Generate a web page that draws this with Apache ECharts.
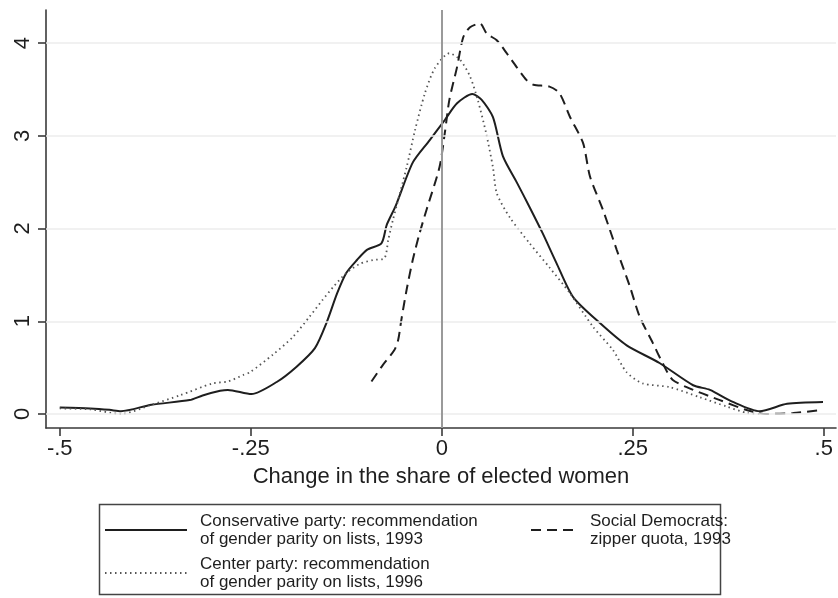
<!DOCTYPE html>
<html>
<head>
<meta charset="utf-8">
<script src="https://cdn.jsdelivr.net/npm/echarts@6/dist/echarts.min.js"></script>
<style>
html,body{margin:0;padding:0;background:#fff;}
#chart{width:838px;height:598px;}
</style>
</head>
<body>
<div id="chart"></div>
<script>
// ---- data ----
const consX = [-0.5, -0.46, -0.435, -0.42, -0.38, -0.33, -0.313, -0.29, -0.28, -0.249, -0.216, -0.19, -0.166, -0.151, -0.137, -0.125, -0.111, -0.098, -0.079, -0.072, -0.06, -0.038, -0.016, 0.004, 0.02, 0.04, 0.052, 0.067, 0.08, 0.098, 0.115, 0.132, 0.15, 0.172, 0.207, 0.242, 0.285, 0.329, 0.351, 0.381, 0.416, 0.452, 0.499];
const consY = [0.07, 0.06, 0.045, 0.03, 0.1, 0.15, 0.2, 0.25, 0.26, 0.215, 0.345, 0.51, 0.71, 0.98, 1.30, 1.52, 1.66, 1.77, 1.84, 2.04, 2.25, 2.71, 2.95, 3.17, 3.35, 3.45, 3.39, 3.2, 2.78, 2.5, 2.23, 1.95, 1.63, 1.26, 0.98, 0.74, 0.55, 0.31, 0.26, 0.13, 0.03, 0.11, 0.13];

const centX = [-0.5, -0.46, -0.42, -0.38, -0.343, -0.3, -0.28, -0.26, -0.251, -0.221, -0.195, -0.173, -0.156, -0.142, -0.125, -0.107, -0.09, -0.075, -0.07, -0.064, -0.046, -0.035, -0.022, -0.009, 0.01, 0.024, 0.037, 0.047, 0.058, 0.067, 0.072, 0.089, 0.115, 0.141, 0.168, 0.198, 0.224, 0.242, 0.263, 0.298, 0.338, 0.373, 0.4, 0.42];
const centY = [0.06, 0.05, 0.0, 0.1, 0.2, 0.33, 0.35, 0.42, 0.45, 0.64, 0.83, 1.05, 1.23, 1.37, 1.52, 1.62, 1.66, 1.68, 1.88, 2.09, 2.66, 3.06, 3.46, 3.73, 3.89, 3.82, 3.64, 3.39, 3.03, 2.66, 2.38, 2.12, 1.84, 1.58, 1.30, 0.94, 0.69, 0.45, 0.33, 0.29, 0.18, 0.08, 0.01, 0.0];

const socX = [-0.092, -0.077, -0.062, -0.057, -0.053, -0.046, -0.038, -0.029, -0.02, -0.003, 0.004, 0.01, 0.02, 0.028, 0.037, 0.05, 0.059, 0.072, 0.085, 0.098, 0.111, 0.12, 0.141, 0.154, 0.168, 0.185, 0.194, 0.211, 0.229, 0.246, 0.259, 0.276, 0.289, 0.302, 0.329, 0.364, 0.4, 0.425, 0.46, 0.495];
const socY = [0.35, 0.53, 0.69, 0.8, 1.01, 1.34, 1.66, 1.95, 2.2, 2.66, 3.03, 3.39, 3.74, 4.06, 4.17, 4.21, 4.1, 4.03, 3.89, 3.74, 3.6, 3.55, 3.53, 3.46, 3.2, 2.92, 2.56, 2.2, 1.77, 1.38, 1.05, 0.77, 0.55, 0.37, 0.26, 0.15, 0.04, 0.0, 0.01, 0.04];

const seriesNames = [
  'Conservative party: recommendation\nof gender parity on lists, 1993',
  'Social Democrats:\nzipper quota, 1993',
  'Center party: recommendation\nof gender parity on lists, 1996'
];
const xTickValues = [-0.5, -0.25, 0, 0.25, 0.5];
const xTickLabels = ['-.5', '-.25', '0', '.25', '.5'];
const yTickValues = [0, 1, 2, 3, 4];
const yTickLabels = ['0', '1', '2', '3', '4'];
const xTitle = 'Change in the share of elected women';

// ---- build ----
const pairs = (xs, ys) => xs.map((x, i) => [x, ys[i]]);
const FONT = '"Liberation Sans", Arial, Helvetica, sans-serif';
const ink = '#1e1e1e';

const chart = echarts.init(document.getElementById('chart'), null, {renderer: 'canvas'});
const legendText = {fontFamily: FONT, fontSize: 17, lineHeight: 18, color: ink, padding: [0, 0, 0, 8]};
const legendBase = {
  orient: 'horizontal', itemHeight: 14, padding: 0, textStyle: legendText, selectedMode: false,
  itemStyle: {color: 'rgba(0,0,0,0)', borderColor: 'rgba(0,0,0,0)', borderWidth: 0}
};

chart.setOption({
  animation: false,
  backgroundColor: '#fff',
  grid: {left: 46, right: 2, top: 10, bottom: 170, containLabel: false},
  xAxis: {
    type: 'value', min: -0.518, max: 0.516,
    name: xTitle, nameLocation: 'middle', nameGap: 38,
    nameTextStyle: {fontFamily: FONT, fontSize: 22, color: ink},
    axisLine: {show: true, onZero: false, lineStyle: {color: '#3a3a3a', width: 1.6}},
    axisTick: {show: true, length: 8, customValues: xTickValues, lineStyle: {color: '#3a3a3a', width: 1.6}},
    axisLabel: {
      show: true, margin: 10, customValues: xTickValues,
      fontFamily: FONT, fontSize: 22, color: ink,
      formatter: v => { const i = xTickValues.findIndex(t => Math.abs(t - v) < 1e-9); return i >= 0 ? xTickLabels[i] : ''; }
    },
    splitLine: {show: false}
  },
  yAxis: {
    type: 'value', min: -0.151, max: 4.356,
    axisLine: {show: true, onZero: false, lineStyle: {color: '#3a3a3a', width: 1.6}},
    axisTick: {show: true, length: 8, customValues: yTickValues, lineStyle: {color: '#3a3a3a', width: 1.6}},
    axisLabel: {
      show: true, margin: 12, rotate: 90, customValues: yTickValues,
      fontFamily: FONT, fontSize: 22, color: ink,
      formatter: v => { const i = yTickValues.findIndex(t => Math.abs(t - v) < 1e-9); return i >= 0 ? yTickLabels[i] : ''; }
    },
    splitLine: {show: false}
  },
  legend: [
    Object.assign({}, legendBase, {data: [seriesNames[0]], left: 104, top: 512, itemWidth: 82}),
    Object.assign({}, legendBase, {data: [seriesNames[1]], left: 530, top: 512, itemWidth: 46}),
    Object.assign({}, legendBase, {data: [seriesNames[2]], left: 104, top: 555, itemWidth: 82})
  ],
  graphic: [
    {type: 'rect', left: 97, top: 502, shape: {x: 0, y: 0, width: 621, height: 90}, style: {fill: 'none', stroke: '#444', lineWidth: 1.5}, silent: true}
  ],
  series: [
    {
      name: 'grid', type: 'line', data: [], silent: true, z: 1,
      markLine: {
        silent: true, symbol: 'none', label: {show: false}, animation: false,
        data: yTickValues.map(v => ({yAxis: v, lineStyle: {color: '#ececec', width: 1.5, type: 'solid'}}))
          .concat([{xAxis: 0, lineStyle: {color: '#9a9a9a', width: 2, type: 'solid'}}])
      }
    },
    {
      name: seriesNames[0], type: 'line', data: pairs(consX, consY), showSymbol: false, symbol: 'none', smooth: 0.25, z: 3,
      lineStyle: {color: ink, width: 2, type: 'solid'}, itemStyle: {color: ink}
    },
    {
      name: seriesNames[1], type: 'line', data: pairs(socX, socY), showSymbol: false, symbol: 'none', smooth: 0.25, z: 3,
      lineStyle: {color: ink, width: 2, type: [10, 6]}, itemStyle: {color: ink}
    },
    {
      name: seriesNames[2], type: 'line', data: pairs(centX, centY), showSymbol: false, symbol: 'none', smooth: 0.25, z: 3,
      lineStyle: {color: '#555', width: 1.8, type: [1.5, 3.5]}, itemStyle: {color: '#555'}
    }
  ]
});
</script>
</body>
</html>
